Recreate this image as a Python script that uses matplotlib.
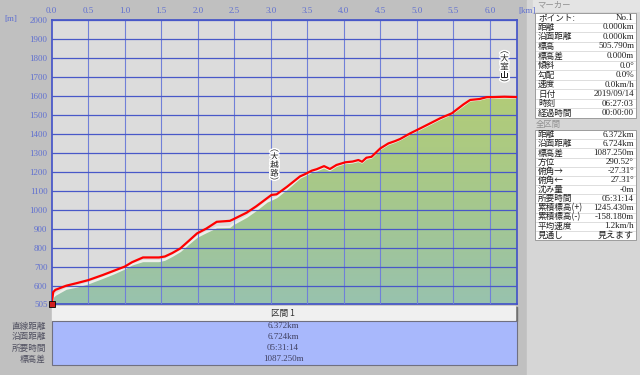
import numpy as np
import matplotlib
matplotlib.use("Agg")
from matplotlib import pyplot as plt
from matplotlib.colors import LinearSegmentedColormap
from matplotlib.patches import Rectangle
import matplotlib.patheffects as pe

plt.rcParams['font.family'] = ['Noto Sans CJK JP', 'DejaVu Sans']

# 距離 [km] と標高 [m]
dist_km = [0.0, 0.02, 0.05, 0.2, 0.35, 0.5, 0.7, 0.85, 1.0, 1.1, 1.25, 1.47, 1.55, 1.65,
           1.76, 1.88, 1.99, 2.12, 2.26, 2.44, 2.48, 2.67, 2.8, 2.95, 3.01, 3.08, 3.22,
           3.40, 3.47, 3.56, 3.63, 3.73, 3.81, 3.90, 4.02, 4.12, 4.20, 4.25, 4.31, 4.38,
           4.50, 4.61, 4.70, 4.77, 4.91, 5.00, 5.14, 5.32, 5.48, 5.64, 5.73, 5.86, 5.96,
           6.05, 6.20, 6.372]
track_m = [505.79, 570, 582, 604, 618, 633, 660, 682, 704, 727, 752, 752, 757, 775,
           799, 840, 878, 904, 939, 944, 951, 987, 1020, 1063, 1080, 1083, 1122,
           1177, 1189, 1207, 1215, 1231, 1216, 1237, 1251, 1255, 1263, 1254, 1275, 1280,
           1324, 1350, 1362, 1373, 1403, 1420, 1447, 1482, 1508, 1555, 1578, 1583, 1593,
           1593, 1595, 1593.04]
terrain_m = [505.79, 545, 556, 588, 600, 616, 645, 668, 694, 715, 733, 733, 740, 760,
             785, 825, 860, 885, 910, 912, 925, 965, 1000, 1045, 1055, 1068, 1110,
             1170, 1183, 1200, 1208, 1225, 1210, 1232, 1247, 1250, 1258, 1250, 1270, 1276,
             1320, 1346, 1358, 1370, 1400, 1416, 1443, 1478, 1505, 1550, 1575, 1580, 1590,
             1590, 1591, 1590]

x_ticks = [0.0, 0.5, 1.0, 1.5, 2.0, 2.5, 3.0, 3.5, 4.0, 4.5, 5.0, 5.5, 6.0]
y_ticks = [600, 700, 800, 900, 1000, 1100, 1200, 1300, 1400, 1500, 1600, 1700, 1800, 1900, 2000]

landmarks = [(3.05, 1125, "大越路"), (6.2, 1640, "大室山")]

marker_rows = [("ポイント:", "No.1"), ("距離", "0.000km"), ("沿面距離", "0.000km"),
               ("標高", "505.790m"), ("標高差", "0.000m"), ("傾斜", "0.0°"),
               ("勾配", "0.0%"), ("速度", "0.0km/h"), ("日付", "2019/09/14"),
               ("時刻", "06:27:03"), ("経過時間", "00:00:00")]
total_rows = [("距離", "6.372km"), ("沿面距離", "6.724km"), ("標高差", "1087.250m"),
              ("方位", "290.52°"), ("俯角→", "-27.31°"), ("俯角←", "27.31°"),
              ("沈み量", "-0m"), ("所要時間", "05:31:14"), ("累積標高(+)", "1245.430m"),
              ("累積標高(-)", "-158.180m"), ("平均速度", "1.2km/h"), ("見通し", "見えます")]
section_rows = [("直線距離", "6.372km"), ("沿面距離", "6.724km"),
                ("所要時間", "05:31:14"), ("標高差", "1087.250m")]

W, H = 640, 375
fig = plt.figure(figsize=(6.4, 3.75), dpi=100)
fig.patch.set_facecolor("#c0c0c0")

# 背景パネル用（ピクセル座標）
bg = fig.add_axes([0, 0, 1, 1])
bg.set_xlim(0, W)
bg.set_ylim(H, 0)
bg.axis("off")

# 右側パネル
bg.add_patch(Rectangle((527, 0), 113, 375, color="#d6d6d6"))
bg.add_patch(Rectangle((533, 0), 107, 11, color="#e4e4e4"))
bg.text(537, 5.5, "マーカー", fontsize=6, color="#909090", va="center")
bg.add_patch(Rectangle((535, 13), 101, 105, facecolor="white", edgecolor="#909090", lw=0.6))
step = 105 / len(marker_rows)
for i, (lab, val) in enumerate(marker_rows):
    yy = 13 + step * (i + 0.5)
    bg.text(538, yy, lab, fontsize=6.2, color="#202020", va="center")
    bg.text(634, yy, val, fontsize=6.5, color="#202020", va="center", ha="right",
            family=["Liberation Serif", "Noto Sans CJK JP"])
    if i > 0:
        bg.plot([536, 635], [13 + step * i] * 2, color="#d0d0d0", lw=0.5)
bg.text(536, 124, "全区間", fontsize=6, color="#909090", va="center")
bg.add_patch(Rectangle((535, 130), 101, 110, facecolor="white", edgecolor="#909090", lw=0.6))
step = 110 / len(total_rows)
for i, (lab, val) in enumerate(total_rows):
    yy = 130 + step * (i + 0.5)
    bg.text(538, yy, lab, fontsize=6.2, color="#202020", va="center")
    bg.text(634, yy, val, fontsize=6.5, color="#202020", va="center", ha="right",
            family=["Liberation Serif", "Noto Sans CJK JP"])
    if i > 0:
        bg.plot([536, 635], [130 + step * i] * 2, color="#d0d0d0", lw=0.5)

# 下部の区間パネル
bg.add_patch(Rectangle((53, 307), 464, 14, color="#707070"))
bg.add_patch(Rectangle((52, 306), 463, 14, color="#f0f0f0"))
bg.text(283, 313, "区間 1", fontsize=6.2, color="#303030", ha="center", va="center")
bg.add_patch(Rectangle((52, 321), 465, 44, facecolor="#a8b8fc", edgecolor="#707080", lw=0.8))
for i, (lab, val) in enumerate(section_rows):
    yy = 326 + 11 * i
    bg.text(46, yy, lab, fontsize=6.2, color="#505060", ha="right", va="center")
    bg.text(283, yy, val, fontsize=6.5, color="#404060", ha="center", va="center",
            family=["Liberation Serif", "Noto Sans CJK JP"])

bg.text(4, 19, "[m]", fontsize=6.5, color="#6070d0", va="center",
        family="Liberation Serif")
bg.text(518, 11, "[km]", fontsize=6.5, color="#6070d0", va="center",
        family="Liberation Serif")

# 断面図
left, right, top, bottom = 51.7, 517, 19.5, 304.4
ax = fig.add_axes([left / W, 1 - bottom / H, (right - left) / W, (bottom - top) / H])
ax.set_facecolor("#dcdcdc")
ax.set_xlim(0, 6.372)
ax.set_ylim(505.79, 2000)

poly = ax.fill_between(dist_km, terrain_m, 505.79, color="none")
cmap = LinearSegmentedColormap.from_list("g", ["#98c2ae", "#a6c88c", "#b2cc78"])
grad = np.linspace(0, 1, 256).reshape(-1, 1)
im = ax.imshow(grad, cmap=cmap, origin="lower", aspect="auto",
               extent=[0, 6.372, 505.79, 1600], zorder=1)
im.set_clip_path(poly.get_paths()[0], transform=ax.transData)
ax.plot(dist_km, terrain_m, color="#eeeeea", lw=1.6, zorder=2)

for xv in x_ticks[1:]:
    ax.axvline(xv, color="#7080d8", lw=0.8, zorder=3)
for yv in y_ticks:
    ax.axhline(yv, color="#4858c8", lw=0.9, zorder=3)

ax.plot(dist_km, track_m, color="#ff0000", lw=1.6, zorder=4)
ax.plot([0], [505.79], marker="s", ms=4, mfc="#d02020", mec="black", mew=0.6,
        zorder=6, clip_on=False)

for xv, yv, name in landmarks:
    ax.text(xv, yv, "︵\n" + "\n".join(name) + "\n︶", fontsize=6.2, color="#202020",
            ha="center", va="bottom", linespacing=0.9, zorder=5,
            path_effects=[pe.withStroke(linewidth=2.2, foreground="white")])

for s in ax.spines.values():
    s.set_color("#4050c8")
    s.set_linewidth(1.2)
ax.xaxis.tick_top()
ax.set_xticks(x_ticks)
ax.set_xticklabels([f"{v:.1f}" for v in x_ticks])
ax.set_yticks([505.79] + y_ticks)
ax.set_yticklabels(["505"] + [str(v) for v in y_ticks])
ax.tick_params(length=0, pad=3, labelsize=6.5, colors="#6070d0")
for lab in ax.get_xticklabels() + ax.get_yticklabels():
    lab.set_family("Liberation Serif")

fig.savefig("out.png", dpi=100, facecolor=fig.get_facecolor())
